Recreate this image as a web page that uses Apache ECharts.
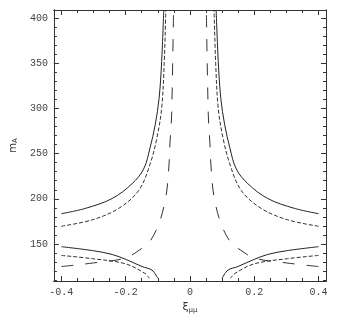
<!DOCTYPE html>
<html><head><meta charset="utf-8">
<script src="https://cdn.jsdelivr.net/npm/echarts@6/dist/echarts.min.js"></script>
<style>html,body{margin:0;padding:0;background:#fff}#c{width:354px;height:319px}</style>
</head><body><div id="c"></div>
<script>
// x tick labels and y tick labels
const xTicks = [-0.4, -0.2, 0, 0.2, 0.4];
const xMinor = [-0.4,-0.35,-0.3,-0.25,-0.2,-0.15,-0.1,-0.05,0,0.05,0.1,0.15,0.2,0.25,0.3,0.35,0.4];
const yTicks = [150, 200, 250, 300, 350, 400];
const yMinor = [110,120,130,140,150,160,170,180,190,200,210,220,230,240,250,260,270,280,290,300,310,320,330,340,350,360,370,380,390,400];

// Solid curves
const solidUpperLeft = [[-0.4,183.5],[-0.324,189.5],[-0.242,200.3],[-0.18,216.7],[-0.144,233],[-0.124,256.5],[-0.108,282],[-0.096,311],[-0.088,352],[-0.0815,409]];
const solidUpperRight = [[0.4,183.5],[0.324,189.5],[0.242,200.3],[0.18,216.7],[0.144,233],[0.124,256.5],[0.108,282],[0.096,311],[0.088,352],[0.0815,409]];
const solidLowerLeft = [[-0.4,147],[-0.3,142.5],[-0.242,138.4],[-0.2,133],[-0.149,125],[-0.118,121],[-0.1,112]];
const solidLowerRight = [[0.4,147],[0.3,142.5],[0.242,138.4],[0.2,133],[0.149,125],[0.118,121],[0.1,112]];
// Short-dashed curves
const shortUpperLeft = [[-0.4,169.6],[-0.303,176.8],[-0.221,189.5],[-0.159,209.4],[-0.124,238.4],[-0.103,267],[-0.088,300],[-0.08,350],[-0.075,409]];
const shortUpperRight = [[0.4,169.6],[0.303,176.8],[0.221,189.5],[0.159,209.4],[0.124,238.4],[0.103,267],[0.088,300],[0.08,350],[0.075,409]];
const shortLowerLeft = [[-0.4,137.3],[-0.303,133.7],[-0.2,128],[-0.14,117.4],[-0.126,112]];
const shortLowerRight = [[0.4,137.3],[0.303,133.7],[0.2,128],[0.14,117.4],[0.126,112]];
// Long-dashed curves
const longLeft = [[-0.4,125],[-0.3,129],[-0.2,134.5],[-0.15,145],[-0.128,151],[-0.097,172],[-0.075,202],[-0.066,233],[-0.062,262],[-0.057,293],[-0.051,409]];
const longRight = [[0.4,125],[0.3,129],[0.2,134.5],[0.15,145],[0.128,151],[0.097,172],[0.075,202],[0.066,233],[0.062,262],[0.057,293],[0.051,409]];

const XMIN = -0.423, XMAX = 0.423, YMIN = 109, YMAX = 409;
const font = 'Liberation Mono';
const lblColor = '#444';

function xAx(pos, show, ticks, len) {
  return {type:'value', min:XMIN, max:XMAX, position:pos, gridIndex:0,
    axisLine:{show:true, onZero:false, lineStyle:{color:'#333', width:1}},
    axisTick:{show:true, inside:true, length:len, customValues:ticks, lineStyle:{color:'#333'}},
    axisLabel:{show:show, customValues:xTicks, margin:6, color:lblColor, fontFamily:font, fontSize:10,
      formatter:v => v===0 ? '0' : (v<0 ? '-' : '') + Math.abs(v).toFixed(1)},
    splitLine:{show:false}};
}
function yAx(pos, show, ticks, len) {
  return {type:'value', min:YMIN, max:YMAX, position:pos, gridIndex:0,
    axisLine:{show:true, onZero:false, lineStyle:{color:'#333', width:1}},
    axisTick:{show:true, inside:true, length:len, customValues:ticks, lineStyle:{color:'#333'}},
    axisLabel:{show:show, customValues:yTicks, margin:6, color:lblColor, fontFamily:font, fontSize:10},
    splitLine:{show:false}};
}

const xAxes = [xAx('bottom', true, xTicks, 5), xAx('bottom', false, xMinor, 3), xAx('top', false, xTicks, 5), xAx('top', false, xMinor, 3)];
xAxes[0].name = '{a|ξ}{s|μμ}';
xAxes[0].nameLocation = 'middle';
xAxes[0].nameGap = 20;
xAxes[0].nameTextStyle = {rich:{a:{fontSize:11, color:'#333', fontFamily:'DejaVu Sans'}, s:{fontSize:7, color:'#333', fontFamily:'DejaVu Sans', padding:[6,0,0,0]}}};
const yAxes = [yAx('left', true, yTicks, 5), yAx('left', false, yMinor, 3), yAx('right', false, yTicks, 5), yAx('right', false, yMinor, 3)];
yAxes[0].name = '{a|m}{s|A}';
yAxes[0].nameLocation = 'middle';
yAxes[0].nameGap = 30;
yAxes[0].nameRotate = 90;
yAxes[0].nameTextStyle = {rich:{a:{fontSize:10, color:'#333', fontFamily:'DejaVu Sans'}, s:{fontSize:7, color:'#333', fontFamily:'DejaVu Sans', padding:[5,0,0,0]}}};

function line(data, type) {
  let ls = {color:'#222', width:1, type:'solid'};
  if (type === 'short') ls = {color:'#333', width:1, type:[4,2]};
  if (type === 'long') ls = {color:'#333', width:1, type:[12,12]};
  return {type:'line', data:data, showSymbol:false, smooth:0.35, lineStyle:ls, clip:true, silent:true, xAxisIndex:0, yAxisIndex:0};
}

const chart = echarts.init(document.getElementById('c'), null, {renderer:'canvas'});
chart.setOption({
  animation:false,
  backgroundColor:'#fff',
  grid:{left:51, top:10, width:275, height:276, containLabel:false},
  xAxis:xAxes,
  yAxis:yAxes,
  series:[
    line(solidUpperLeft,'solid'), line(solidUpperRight,'solid'),
    line(solidLowerLeft,'solid'), line(solidLowerRight,'solid'),
    line(shortUpperLeft,'short'), line(shortUpperRight,'short'),
    line(shortLowerLeft,'short'), line(shortLowerRight,'short'),
    line(longLeft,'long'), line(longRight,'long')
  ]
});
</script></body></html>
